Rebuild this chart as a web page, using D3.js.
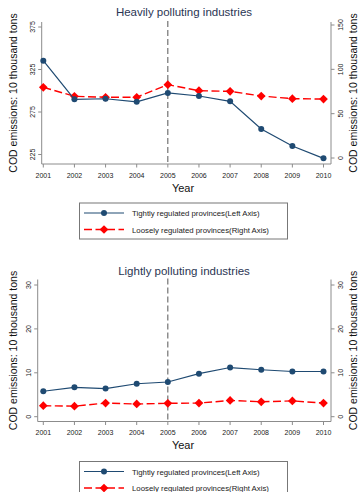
<!DOCTYPE html>
<html>
<head>
<meta charset="utf-8">
<script src="https://cdn.jsdelivr.net/npm/d3@7"></script>
<style>
  html, body { margin: 0; padding: 0; background: #fff; }
  svg { display: block; font-family: "Liberation Sans", Arial, sans-serif; }
  .tick-lab { font-size: 7px; fill: #222; }
  .axis-title { font-size: 10.5px; fill: #111; }
  .year-title { font-size: 11px; fill: #111; }
  .panel-title { font-size: 11.5px; fill: #2a3553; }
  .leg-text { font-size: 7.8px; fill: #222; }
</style>
</head>
<body>
<svg id="chart" width="359" height="492"></svg>
<script>
// ---- data ----
const years = [2001, 2002, 2003, 2004, 2005, 2006, 2007, 2008, 2009, 2010];

const heavyTight = [335.4, 289.9, 290.6, 287.0, 297.4, 293.8, 287.6, 255.0, 235.0, 220.5];
const heavyLoose = [79.7, 69.6, 68.5, 68.5, 82.7, 75.9, 75.2, 69.9, 66.9, 66.5];
const heavyLeftTicks = [225, 275, 325, 375];
const heavyRightTicks = [0, 50, 100, 150];

const lightTight = [5.8, 6.7, 6.4, 7.5, 7.9, 9.8, 11.2, 10.7, 10.3, 10.3];
const lightLoose = [2.5, 2.4, 3.1, 2.9, 3.05, 3.1, 3.7, 3.4, 3.6, 3.1];
const lightLeftTicks = [0, 10, 20, 30];
const lightRightTicks = [0, 10, 20, 30];

const policyYear = 2005;
const yTitle = 'COD emissions: 10 thousand tons';
const legendLabels = ['Tightly regulated provinces(Left Axis)', 'Loosely regulated provinces(Right Axis)'];

const NAVY = '#1f4a72', RED = '#ff0000', AXIS = '#8c8c8c';

const svg = d3.select('#chart');
const diamond = d3.symbol().type(d3.symbolSquare).size(38);

function drawPanel(p) {
  const g = svg.append('g').attr('transform', `translate(0,${p.dy})`);
  const top = 22, bottom = 164;

  const x = d3.scaleLinear().domain([2001, 2010]).range([43.3, 323.5]);
  const yL = d3.scaleLinear().domain(p.leftDomain).range(p.leftRange);
  const yR = d3.scaleLinear().domain(p.rightDomain).range(p.rightRange);

  // title
  g.append('text').attr('class', 'panel-title').attr('x', 184).attr('y', p.titleY)
    .attr('text-anchor', 'middle').text(p.title);

  // axis lines
  g.append('line').attr('x1', p.leftX).attr('x2', 331).attr('y1', bottom).attr('y2', bottom)
    .attr('stroke', AXIS).attr('stroke-width', 1);
  g.append('line').attr('x1', p.leftX).attr('x2', p.leftX).attr('y1', top).attr('y2', bottom)
    .attr('stroke', AXIS).attr('stroke-width', 1);
  g.append('line').attr('x1', 331).attr('x2', 331).attr('y1', top).attr('y2', bottom)
    .attr('stroke', AXIS).attr('stroke-width', 1);

  // left ticks
  p.leftTicks.forEach(v => {
    const yy = yL(v);
    g.append('line').attr('x1', p.leftX - 3.5).attr('x2', p.leftX).attr('y1', yy).attr('y2', yy)
      .attr('stroke', AXIS);
    g.append('text').attr('class', 'tick-lab').attr('text-anchor', 'middle')
      .attr('transform', `translate(${p.leftX - 6.5},${yy}) rotate(-90)`).text(v);
  });
  // right ticks
  p.rightTicks.forEach(v => {
    const yy = yR(v);
    g.append('line').attr('x1', 331).attr('x2', 334.5).attr('y1', yy).attr('y2', yy)
      .attr('stroke', AXIS);
    g.append('text').attr('class', 'tick-lab').attr('text-anchor', 'middle')
      .attr('transform', `translate(343,${yy}) rotate(-90)`).text(v);
  });
  // x ticks
  years.forEach(yr => {
    g.append('line').attr('x1', x(yr)).attr('x2', x(yr)).attr('y1', bottom).attr('y2', bottom + 3.5)
      .attr('stroke', AXIS);
    g.append('text').attr('class', 'tick-lab').attr('x', x(yr)).attr('y', bottom + 13.5)
      .attr('text-anchor', 'middle').text(yr);
  });

  // axis titles
  g.append('text').attr('class', 'axis-title').attr('text-anchor', 'middle')
    .attr('transform', `translate(16.5,${(top + bottom) / 2}) rotate(-90)`).text(yTitle);
  g.append('text').attr('class', 'axis-title').attr('text-anchor', 'middle')
    .attr('transform', `translate(357,${(top + bottom) / 2}) rotate(-90)`).text(yTitle);
  g.append('text').attr('class', 'year-title').attr('x', 183).attr('y', bottom + 27.5)
    .attr('text-anchor', 'middle').text('Year');

  // 2005 reference line
  g.append('line').attr('x1', x(policyYear)).attr('x2', x(policyYear)).attr('y1', top - 1).attr('y2', bottom)
    .attr('stroke', '#555').attr('stroke-width', 1).attr('stroke-dasharray', '6,3');

  // loose series (right axis)
  const lineR = d3.line().x((d, i) => x(years[i])).y(d => yR(d));
  g.append('path').datum(p.loose).attr('d', lineR).attr('fill', 'none')
    .attr('stroke', RED).attr('stroke-width', 1.4).attr('stroke-dasharray', '8,3.5');
  g.selectAll('.dm').data(p.loose).enter().append('path')
    .attr('d', diamond).attr('fill', RED)
    .attr('transform', (d, i) => `translate(${x(years[i])},${yR(d)}) rotate(45)`);

  // tight series (left axis)
  const lineL = d3.line().x((d, i) => x(years[i])).y(d => yL(d));
  g.append('path').datum(p.tight).attr('d', lineL).attr('fill', 'none')
    .attr('stroke', NAVY).attr('stroke-width', 1.2);
  g.selectAll('.ci').data(p.tight).enter().append('circle')
    .attr('cx', (d, i) => x(years[i])).attr('cy', d => yL(d)).attr('r', 3).attr('fill', NAVY);

  // legend
  const lg = g.append('g').attr('transform', `translate(79,${p.legTop})`);
  lg.append('rect').attr('x', 0.5).attr('y', 0.5).attr('width', 208).attr('height', 36)
    .attr('fill', '#fff').attr('stroke', '#777').attr('stroke-width', 1);
  [0, 1].forEach(k => {
    const ly = k === 0 ? 10.5 : 27;
    lg.append('line').attr('x1', 5).attr('x2', 45).attr('y1', ly).attr('y2', ly)
      .attr('stroke', k === 0 ? NAVY : RED).attr('stroke-width', k === 0 ? 1.2 : 1.4)
      .attr('stroke-dasharray', k === 0 ? null : '8,3.5');
    if (k === 0) {
      lg.append('circle').attr('cx', 25).attr('cy', ly).attr('r', 3).attr('fill', NAVY);
    } else {
      lg.append('path').attr('d', diamond).attr('fill', RED)
        .attr('transform', `translate(25,${ly}) rotate(45)`);
    }
    lg.append('text').attr('class', 'leg-text').attr('x', 53).attr('y', ly + 3).text(legendLabels[k]);
  });
}

drawPanel({
  dy: 0, title: 'Heavily polluting industries', titleY: 16,
  leftX: 41.7,
  leftDomain: [225, 375], leftRange: [154.5, 27],
  rightDomain: [0, 150], rightRange: [158, 25],
  leftTicks: heavyLeftTicks, rightTicks: heavyRightTicks,
  tight: heavyTight, loose: heavyLoose, legTop: 202.5
});

drawPanel({
  dy: 257.5, title: 'Lightly polluting industries', titleY: 17,
  leftX: 37.7,
  leftDomain: [0, 30], leftRange: [416.7 - 257.5, 285 - 257.5],
  rightDomain: [0, 30], rightRange: [416.7 - 257.5, 285 - 257.5],
  leftTicks: lightLeftTicks, rightTicks: lightRightTicks,
  tight: lightTight, loose: lightLoose, legTop: 203.5
});
</script>
</body>
</html>
